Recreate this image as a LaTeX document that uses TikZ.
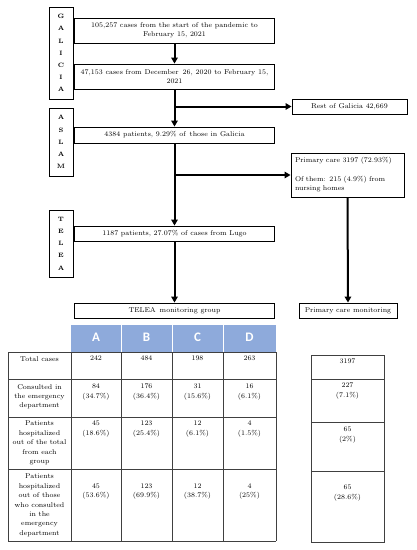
\documentclass[tikz,border=0pt]{standalone}
\usepackage{fontspec}
\newfontfamily\hdrfont{Carlito}
\usetikzlibrary{arrows.meta}
\definecolor{hdrblue}{HTML}{8EAADB}
\begin{document}
\begin{tikzpicture}[x=1pt,y=-1pt,
  box/.style={draw, line width=0.9pt, inner sep=1pt, align=center, font=\fontsize{7}{9.3}\selectfont},
  side/.style={draw, line width=0.9pt, minimum width=24pt, inner sep=0pt, align=center, font=\fontsize{6.3}{12.2}\selectfont\bfseries},
  conn/.style={line width=2pt, -{Triangle[length=6pt,width=6.5pt]}},
  cell/.style={anchor=north, inner sep=0pt, align=center, font=\fontsize{7}{9.4}\selectfont},
  gridline/.style={draw=black!75, line width=0.8pt},
  hdr/.style={font=\hdrfont\bfseries\fontsize{13}{13}\selectfont, text=white, inner sep=0pt}
]
\useasboundingbox[fill=white] (0,0) rectangle (416,550);

% side labels
\node[side, minimum height=92pt] (gal) at (61,53) {G\\A\\L\\I\\C\\I\\A};
\node[side, minimum height=68pt] (asl) at (61,142) {A\\S\\L\\A\\M};
\node[side, minimum height=67pt] (tel) at (61,243.5) {T\\E\\L\\E\\A};

% main boxes
\node[box, minimum width=200pt, minimum height=25pt] (b1) at (174.5,30.5) {105,257 cases from the start of the pandemic to\\February 15, 2021};
\node[box, minimum width=200pt, minimum height=25pt] (b2) at (174.5,76.5) {47,153 cases from December \,26, 2020 to February 15,\\2021};
\node[box, minimum width=200pt, minimum height=16pt] (b3) at (174.5,135) {4384 patients, 9.29\% of \,those in Galicia};
\node[box, minimum width=200pt, minimum height=15pt] (b4) at (174.5,233.5) {1187 patients, 27.07\% of cases from Lugo};
\node[box, minimum width=200pt, minimum height=15pt] (b5) at (174.5,310.5) {TELEA \,monitoring group};

\node[box, minimum width=115pt, minimum height=15pt] (rest) at (349.5,106.5) {Rest of Galicia 42,669};
\node[box, minimum width=113pt, minimum height=44pt, align=left, text width=105pt, inner sep=0pt] (pc) at (347.5,175) {Primary care 3197 (72.93\%)\\[9.3pt]Of them: 215 (4.9\%) from\\nursing homes};
\node[box, minimum width=98pt, minimum height=15pt] (pcm) at (348,310.5) {Primary care monitoring};

% connectors
\coordinate (j1) at (b2.south |- rest.west);
\coordinate (j2) at (b3.south |- pc.west);
\draw[conn] (b1.south) -- (b2.north);
\draw[conn] (b2.south) -- (b3.north);
\draw[conn] (j1) -- (rest.west);
\draw[conn] (b3.south) -- (b4.north);
\draw[conn] (j2) -- (pc.west);
\draw[conn] (b4.south) -- (b5.north);
\draw[conn] (pc.south) -- (pcm.north);

% table header
\fill[hdrblue] (71,325) rectangle (276,352);
\foreach \x in {121,172,223} \draw[white, line width=0.8pt] (\x,325) -- (\x,352);
\node[hdr] (hA) at (96,337.5) {A};
\node[hdr] (hB) at (146.5,337.5) {B};
\node[hdr] (hC) at (197.5,337.5) {C};
\node[hdr] (hD) at (249.5,337.5) {D};

% left table grid
\foreach \y in {352,379,417,469,541} \draw[gridline] (8,\y) -- (276,\y);
\foreach \x in {8,71,121,172,223,276} \draw[gridline] (\x,352) -- (\x,541);

% right table grid
\draw[gridline] (311,355) rectangle (384,542);
\foreach \y in {379,422,471} \draw[gridline] (311,\y) -- (384,\y);

% row 1
\node[cell] (l1) at (39.5,356) {Total cases};
\node[cell] (a1) at (96,356) {242};
\node[cell] (bb1) at (146.5,356) {484};
\node[cell] (c1) at (197.5,356) {198};
\node[cell] (d1) at (249.5,356) {263};
% row 2
\node[cell] (l2) at (39.5,384) {Consulted in\\the emergency\\department};
\node[cell] (a2) at (96,384) {84\\(34.7\%)};
\node[cell] (bb2) at (146.5,384) {176\\(36.4\%)};
\node[cell] (c2) at (197.5,384) {31\\(15.6\%)};
\node[cell] (d2) at (249.5,384) {16\\(6.1\%)};
% row 3
\node[cell] (l3) at (39.5,421) {Patients\\hospitalized\\out of the total\\from each\\group};
\node[cell] (a3) at (96,421) {45\\(18.6\%)};
\node[cell] (bb3) at (146.5,421) {123\\(25.4\%)};
\node[cell] (c3) at (197.5,421) {12\\(6.1\%)};
\node[cell] (d3) at (249.5,421) {4\\(1.5\%)};
% row 4
\node[cell] (l4) at (39.5,474) {Patients\\hospitalized\\out of those\\who consulted\\in the\\emergency\\department};
\node[cell] (a4) at (96,483.4) {45\\(53.6\%)};
\node[cell] (bb4) at (146.5,483.4) {123\\(69.9\%)};
\node[cell] (c4) at (197.5,483.4) {12\\(38.7\%)};
\node[cell] (d4) at (249.5,483.4) {4\\(25\%)};

% right table
\node[cell] (r1) at (347.5,359) {3197};
\node[cell] (r2) at (347.5,383) {227\\(7.1\%)};
\node[cell] (r3) at (347.5,427) {65\\(2\%)};
\node[cell] (r4) at (347.5,485) {65\\(28.6\%)};
\end{tikzpicture}
\end{document}
